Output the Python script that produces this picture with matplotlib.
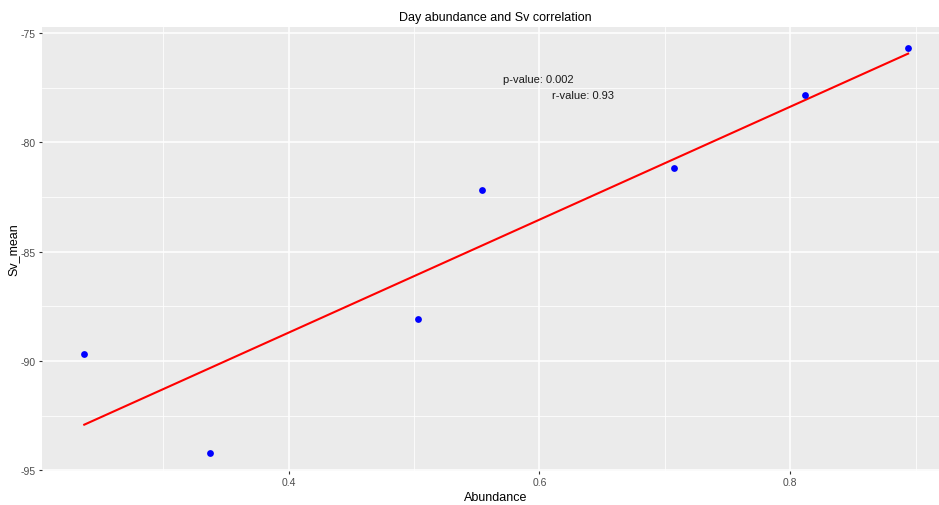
import numpy as np
import matplotlib.pyplot as plt

plt.rcParams['font.family'] = ['Liberation Sans', 'DejaVu Sans']

# abundance vs mean Sv per day
abundance = [0.237, 0.337, 0.503, 0.554, 0.707, 0.812, 0.894]
sv_mean = [-89.66, -94.19, -88.08, -82.18, -81.17, -77.85, -75.67]
p_label = "p-value: 0.002"
r_label = "r-value: 0.93"

x = np.array(abundance)
y = np.array(sv_mean)
slope, intercept = np.polyfit(x, y, 1)
xs = np.linspace(x.min(), x.max(), 100)

fig = plt.figure(figsize=(9.39, 5.06), dpi=100)
ax = fig.add_axes([42 / 939, 34 / 506, (949.5 - 42) / 939, 444 / 506])
ax.set_facecolor('#EBEBEB')
for s in ax.spines.values():
    s.set_visible(False)

ax.set_xlim(0.2033, 0.927)
ax.set_ylim(-95.03, -74.73)
ax.set_xticks([0.4, 0.6, 0.8])
ax.set_xticks([0.3, 0.5, 0.7, 0.9], minor=True)
ax.set_yticks([-95, -90, -85, -80, -75])
ax.set_yticks([-92.5, -87.5, -82.5, -77.5], minor=True)
ax.set_xticklabels(['0.4', '0.6', '0.8'])
ax.set_yticklabels(['-95', '-90', '-85', '-80', '-75'])
ax.grid(which='major', color='white', linewidth=1.1)
ax.grid(which='minor', color='white', linewidth=0.55)
ax.set_axisbelow(True)
ax.tick_params(which='major', length=2.5, width=0.8, color='#333333',
               labelsize=7.5, labelcolor='#4D4D4D', pad=2)
ax.tick_params(which='minor', length=0)

ax.plot(xs, slope * xs + intercept, color='red', linewidth=1.5)
ax.scatter(x, y, s=24, color='blue', zorder=3, linewidths=0)

ax.text(0.5707, -77.1, p_label, fontsize=8, color='#1A1A1A', va='center')
ax.text(0.6097, -77.83, r_label, fontsize=8, color='#1A1A1A', va='center')

ax.set_title("Day abundance and Sv correlation", fontsize=9, pad=5)
ax.set_xlabel("Abundance", fontsize=9, labelpad=3)
ax.set_ylabel("Sv_mean", fontsize=9, labelpad=1)

fig.savefig("out.png", dpi=100)
